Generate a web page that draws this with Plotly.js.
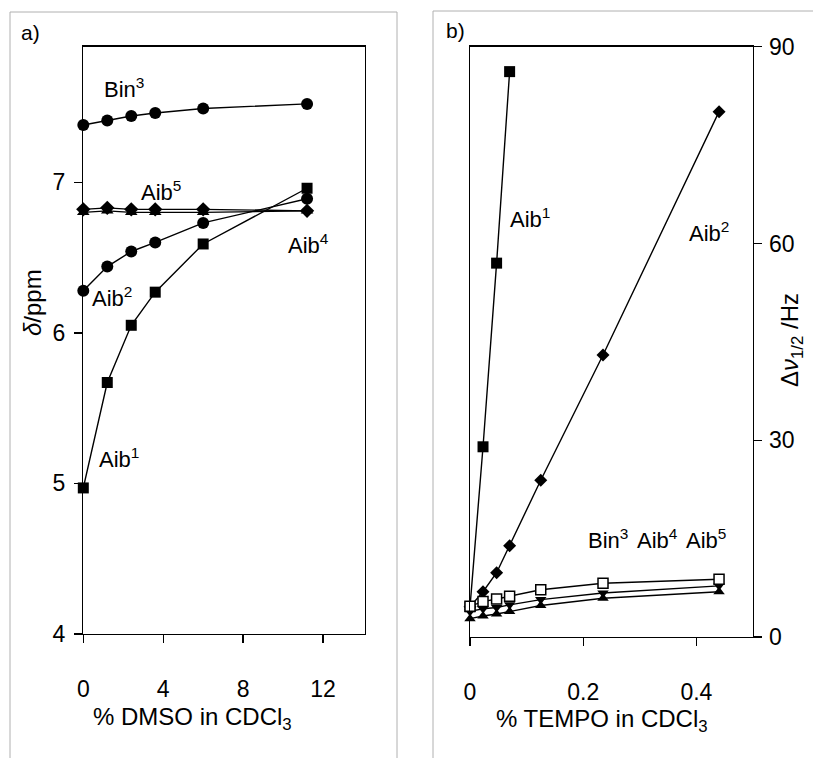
<!DOCTYPE html>
<html>
<head>
<meta charset="utf-8">
<script src="https://cdn.plot.ly/plotly-3.0.1.min.js"></script>
<style>html,body{margin:0;padding:0;background:#fff}#chart{width:813px;height:758px}</style>
</head>
<body>
<div id="chart"></div>
<script>
// ---- Panel a) : chemical shift vs % DMSO ----
const dmso = [0, 1.2, 2.4, 3.6, 6, 11.2];
const a_Bin3 = [7.38, 7.41, 7.44, 7.46, 7.49, 7.52];
const a_Aib5 = [6.82, 6.83, 6.82, 6.82, 6.82, 6.81];
const a_Aib4 = [6.80, 6.81, 6.80, 6.80, 6.80, 6.81];
const a_Aib2 = [6.28, 6.44, 6.54, 6.60, 6.73, 6.89];
const a_Aib1 = [4.97, 5.67, 6.05, 6.27, 6.59, 6.96];

// ---- Panel b) : line width vs % TEMPO ----
const tempo = [0, 0.023, 0.047, 0.07, 0.125, 0.235, 0.44];
const tempoAib1 = [0, 0.023, 0.047, 0.07];
const b_Aib1 = [4.6, 29.0, 57.0, 86.2];
const b_Aib2 = [4.6, 6.9, 9.8, 13.9, 23.9, 43.0, 80.1];
const b_Bin3 = [4.7, 5.4, 5.8, 6.2, 7.2, 8.2, 8.8];
const b_Aib5 = [3.9, 4.3, 4.5, 4.9, 5.7, 6.7, 7.8];
const b_Aib4 = [2.8, 3.2, 3.5, 3.9, 4.8, 5.9, 6.9];

const xTicksA = [0, 4, 8, 12];
const yTicksA = [4, 5, 6, 7];
const xTicksB = [0, 0.2, 0.4];
const xTickTextB = ['0', '0.2', '0.4'];
const yTicksB = [0, 30, 60, 90];

const W = 813, H = 758;
const px = v => v / W;
const py = v => 1 - v / H;
const FONT = 'Liberation Sans, Arial, sans-serif';
const line = {color: '#000', width: 1.4};

function tr(x, y, name, symbol, size, xa, ya, fill) {
  return {
    x: x, y: y, name: name, type: 'scatter', mode: 'lines+markers',
    xaxis: xa, yaxis: ya, cliponaxis: false, line: line,
    marker: {symbol: symbol, size: size, color: fill || '#000',
             line: {color: '#000', width: fill ? 1.5 : 0}}
  };
}

const data = [
  tr(dmso, a_Bin3, 'Bin3', 'circle', 12, 'x', 'y'),
  tr(dmso, a_Aib5, 'Aib5', 'diamond', 11, 'x', 'y'),
  tr(dmso, a_Aib4, 'Aib4', 'triangle-up', 11, 'x', 'y'),
  tr(dmso, a_Aib2, 'Aib2', 'circle', 12, 'x', 'y'),
  tr(dmso, a_Aib1, 'Aib1', 'square', 11, 'x', 'y'),
  tr(tempoAib1, b_Aib1, 'Aib1', 'square', 11, 'x2', 'y2'),
  tr(tempo, b_Aib2, 'Aib2', 'diamond', 10, 'x2', 'y2'),
  tr(tempo, b_Aib4, 'Aib4', 'triangle-up', 10, 'x2', 'y2'),
  tr(tempo, b_Aib5, 'Aib5', 'triangle-down', 10, 'x2', 'y2'),
  tr(tempo, b_Bin3, 'Bin3', 'square', 10, 'x2', 'y2', '#fff')
];

const axBase = {
  showgrid: false, zeroline: false, showline: true, linecolor: '#000', linewidth: 1.4,
  mirror: true, ticks: 'outside', ticklen: 8, tickwidth: 1.4, tickcolor: '#000',
  tickfont: {family: FONT, size: 23, color: '#000'}
};

const ann = (x, y, text, size, angle) => ({
  xref: 'paper', yref: 'paper', x: px(x), y: py(y), text: text, showarrow: false,
  xanchor: 'center', yanchor: 'middle', textangle: angle || 0,
  font: {family: FONT, size: size || 22, color: '#000'}
});

const frameLine = (x0, y0, x1, y1) => ({
  type: 'line', xref: 'paper', yref: 'paper', x0: px(x0), y0: py(y0), x1: px(x1), y1: py(y1),
  line: {color: '#b0b0b0', width: 1}
});

const layout = {
  width: W, height: H, margin: {l: 0, r: 0, t: 0, b: 0},
  paper_bgcolor: '#fff', plot_bgcolor: '#fff', showlegend: false,
  font: {family: FONT, color: '#000'},
  xaxis: Object.assign({}, axBase, {
    domain: [px(83.3), px(365)], range: [0, 14.1], tickvals: xTicksA, anchor: 'y',
    ticklabelstandoff: 26
  }),
  yaxis: Object.assign({}, axBase, {
    domain: [py(634), py(46.7)], range: [4, 7.9], tickvals: yTicksA, anchor: 'x',
    ticklabelstandoff: 4
  }),
  xaxis2: Object.assign({}, axBase, {
    domain: [px(470), px(753)], range: [0, 0.5], tickvals: xTicksB, ticktext: xTickTextB, anchor: 'y2',
    ticklabelstandoff: 26
  }),
  yaxis2: Object.assign({}, axBase, {
    domain: [py(637), py(46.7)], range: [0, 90], tickvals: yTicksB, anchor: 'x2', side: 'right',
    ticklabelstandoff: 2
  }),
  annotations: [
    ann(192, 718, '% DMSO in CDCl<sub>3</sub>', 24),
    ann(602, 720, '% TEMPO in CDCl<sub>3</sub>', 24),
    ann(33, 303, '<i>δ</i>/ppm', 24, -90),
    ann(791, 340, 'Δ<i>ν</i><sub>1/2</sub> /Hz', 24, -90),
    ann(30, 32, 'a)', 21), ann(455, 30, 'b)', 21),
    ann(124, 88, 'Bin<sup>3</sup>'), ann(161, 191, 'Aib<sup>5</sup>'),
    ann(308, 244, 'Aib<sup>4</sup>'), ann(112, 297, 'Aib<sup>2</sup>'),
    ann(119, 458, 'Aib<sup>1</sup>'),
    ann(530, 218, 'Aib<sup>1</sup>'), ann(709, 232, 'Aib<sup>2</sup>'),
    ann(608, 539, 'Bin<sup>3</sup>'), ann(657, 539, 'Aib<sup>4</sup>'), ann(706, 539, 'Aib<sup>5</sup>')
  ],
  shapes: [
    frameLine(10, 758, 10, 12), frameLine(10, 12, 397, 12), frameLine(397, 12, 397, 758),
    frameLine(433, 758, 433, 11), frameLine(433, 11, 813, 11)
  ]
};

Plotly.newPlot('chart', data, layout, {staticPlot: true, displayModeBar: false});
</script>
</body>
</html>
